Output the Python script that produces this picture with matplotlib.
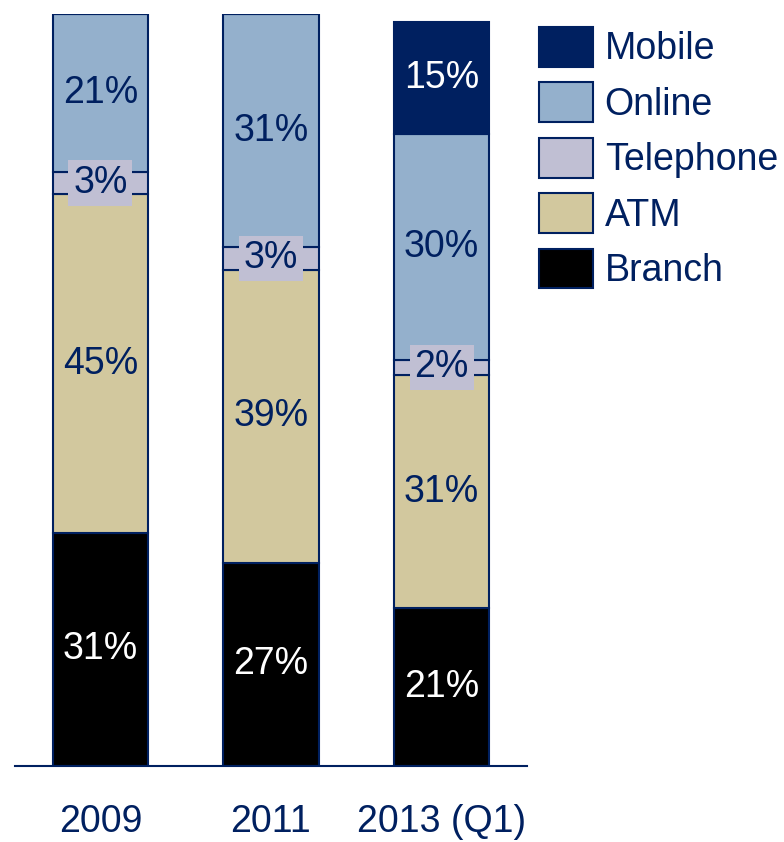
import numpy as np
import matplotlib.pyplot as plt
from matplotlib.patches import Patch

plt.rcParams['font.family'] = ['Liberation Sans', 'DejaVu Sans']

years = ['2009', '2011', '2013 (Q1)']
channels = ['Branch', 'ATM', 'Telephone', 'Online', 'Mobile']
branch = [31, 27, 21]
atm = [45, 39, 31]
telephone = [3, 3, 2]
online = [21, 31, 30]
mobile = [0, 0, 15]

navy = '#002060'
colors = {
    'Branch': '#000000',
    'ATM': '#d2c89e',
    'Telephone': '#c0bfd3',
    'Online': '#94b0cc',
    'Mobile': '#002060',
}
text_colors = {
    'Branch': 'white',
    'ATM': navy,
    'Telephone': navy,
    'Online': navy,
    'Mobile': 'white',
}

fig = plt.figure(figsize=(7.84, 8.42), dpi=100)
ax = fig.add_axes([15 / 784, 1 - 766 / 842, 512 / 784, 752 / 842])

x = np.arange(len(years))
width = 0.56
bottom = np.zeros(len(years))
for name, vals in zip(channels, [branch, atm, telephone, online, mobile]):
    vals = np.array(vals, dtype=float)
    ax.bar(x, vals, width, bottom=bottom, color=colors[name],
           edgecolor=navy, linewidth=1.5, zorder=2)
    for xi, v, b in zip(x, vals, bottom):
        if v <= 0:
            continue
        kw = {}
        if name == 'Telephone':
            kw['bbox'] = dict(boxstyle='square,pad=0.13', fc=colors[name], ec='none')
        ax.text(xi, b + v / 2, f'{int(v)}%', ha='center', va='center',
                fontsize=27, color=text_colors[name], zorder=3, **kw)
    bottom += vals

ax.set_xlim(-0.5, 2.5)
ax.set_ylim(0, 100)
ax.set_yticks([])
ax.set_xticks(x)
ax.set_xticklabels(years, fontsize=27, color=navy)
ax.tick_params(axis='x', length=0, pad=27)
for side in ['top', 'right', 'left']:
    ax.spines[side].set_visible(False)
ax.spines['bottom'].set_color(navy)
ax.spines['bottom'].set_linewidth(1.5)
ax.spines['bottom'].set_zorder(3)

handles = [Patch(facecolor=colors[c], edgecolor=navy, linewidth=1.5, label=c)
           for c in channels[::-1]]
leg = fig.legend(handles=handles, loc='upper left',
                 bbox_to_anchor=(539 / 784, 1 - 27 / 842),
                 frameon=False, fontsize=27, borderpad=0, borderaxespad=0,
                 handlelength=1.45, handleheight=1.25, handletextpad=0.3,
                 labelspacing=0.4)
for t in leg.get_texts():
    t.set_color(navy)

fig.savefig('out.png', dpi=100)
